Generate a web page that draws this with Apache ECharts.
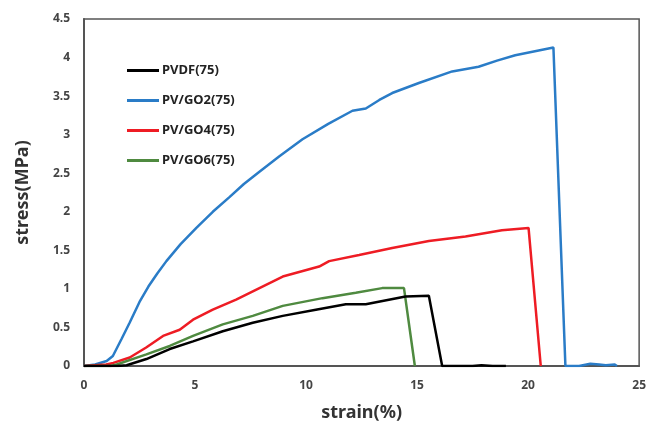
<!DOCTYPE html>
<html>
<head>
<meta charset="utf-8">
<script src="https://cdn.jsdelivr.net/npm/echarts@6/dist/echarts.min.js"></script>
<style>html,body{margin:0;padding:0;background:#fff}#c{width:649px;height:427px}</style>
</head>
<body>
<div id="c"></div>
<script>
const seriesNames = ['PVDF(75)', 'PV/GO2(75)', 'PV/GO4(75)', 'PV/GO6(75)'];
const xTicks = [0, 5, 10, 15, 20, 25];
const yTicks = [0, 0.5, 1, 1.5, 2, 2.5, 3, 3.5, 4, 4.5];

const pvdf = [[0,0],[1.5,0],[1.92,0.01],[2.81,0.09],[3.86,0.22],[4.91,0.32],[6.25,0.45],[7.6,0.56],[8.95,0.65],[10.44,0.73],[11.79,0.8],[12.69,0.8],[13.73,0.86],[14.48,0.9],[15.53,0.91],[16.13,0],[17.5,0],[17.9,0.01],[18.4,0],[19,0]];
const go2 = [[0,0],[0.5,0.02],[1.02,0.065],[1.3,0.13],[1.69,0.35],[2.06,0.565],[2.5,0.83],[2.9,1.03],[3.3,1.2],[3.71,1.36],[4.35,1.58],[5.06,1.79],[5.8,2.0],[6.55,2.19],[7.2,2.36],[7.9,2.52],[8.8,2.72],[9.84,2.94],[11.0,3.14],[12.09,3.31],[12.69,3.34],[13.3,3.45],[13.88,3.54],[15.08,3.67],[16.58,3.82],[17.77,3.88],[18.6,3.96],[19.42,4.03],[21.14,4.13],[21.68,0],[22.3,0],[22.8,0.03],[23.2,0.02],[23.5,0.01],[23.9,0.02],[24.0,0]];
const go4 = [[0,0],[1,0.02],[1.32,0.04],[2.06,0.11],[2.8,0.24],[3.56,0.39],[4.31,0.47],[4.91,0.6],[5.8,0.73],[6.85,0.86],[7.9,1.01],[8.95,1.16],[10.59,1.29],[11.04,1.36],[12.39,1.44],[13.88,1.53],[15.53,1.62],[17.18,1.68],[18.82,1.76],[20.02,1.79],[20.57,0]];
const go6 = [[0,0],[1.2,0],[1.47,0.02],[2.81,0.15],[3.86,0.26],[4.91,0.39],[6.25,0.54],[7.6,0.65],[8.95,0.78],[10.74,0.88],[12.24,0.95],[13.43,1.01],[14.41,1.01],[14.9,0]];

const colors = ['#000000', '#2a7cc7', '#ee1c24', '#4f8a40'];
const fontFamily = '"Noto Sans", "Open Sans", sans-serif';

const chart = echarts.init(document.getElementById('c'), null, {renderer: 'canvas'});
const dataSets = [pvdf, go2, go4, go6];
chart.setOption({
  animation: false,
  backgroundColor: '#fff',
  color: colors,
  grid: {left: 84, right: 8, top: 19, bottom: 60, show: true, borderColor: '#555', borderWidth: 1.5, containLabel: false},
  legend: {
    show: true,
    orient: 'vertical',
    left: 122,
    top: 59,
    itemWidth: 32,
    itemHeight: 3,
    itemGap: 17,
    icon: 'rect',
    data: seriesNames,
    textStyle: {fontFamily: fontFamily, fontWeight: 'bold', fontSize: 13, color: '#222', padding: [0, 0, 0, -2]}
  },
  xAxis: {
    type: 'value', min: xTicks[0], max: xTicks[xTicks.length - 1], interval: 5,
    name: 'strain(%)', nameLocation: 'middle', nameGap: 38,
    nameTextStyle: {fontFamily: fontFamily, fontWeight: 'bold', fontSize: 18, color: '#333'},
    axisLine: {show: true, lineStyle: {color: '#555', width: 2}},
    axisTick: {show: false},
    splitLine: {show: false},
    axisLabel: {fontFamily: fontFamily, fontWeight: 'bold', fontSize: 12, color: '#444', margin: 14}
  },
  yAxis: {
    type: 'value', min: yTicks[0], max: yTicks[yTicks.length - 1], interval: 0.5,
    name: 'stress(MPa)', nameLocation: 'middle', nameGap: 52,
    nameTextStyle: {fontFamily: fontFamily, fontWeight: 'bold', fontSize: 18, color: '#333'},
    axisLine: {show: true, lineStyle: {color: '#555', width: 2}},
    axisTick: {show: false},
    splitLine: {show: false},
    axisLabel: {fontFamily: fontFamily, fontWeight: 'bold', fontSize: 12, color: '#444', margin: 14}
  },
  series: seriesNames.map((n, i) => ({
    name: n, type: 'line', data: dataSets[i], showSymbol: false, symbol: 'none',
    lineStyle: {width: 2.5, color: colors[i]}, z: i === 0 ? 5 : 2
  }))
});
</script>
</body>
</html>
